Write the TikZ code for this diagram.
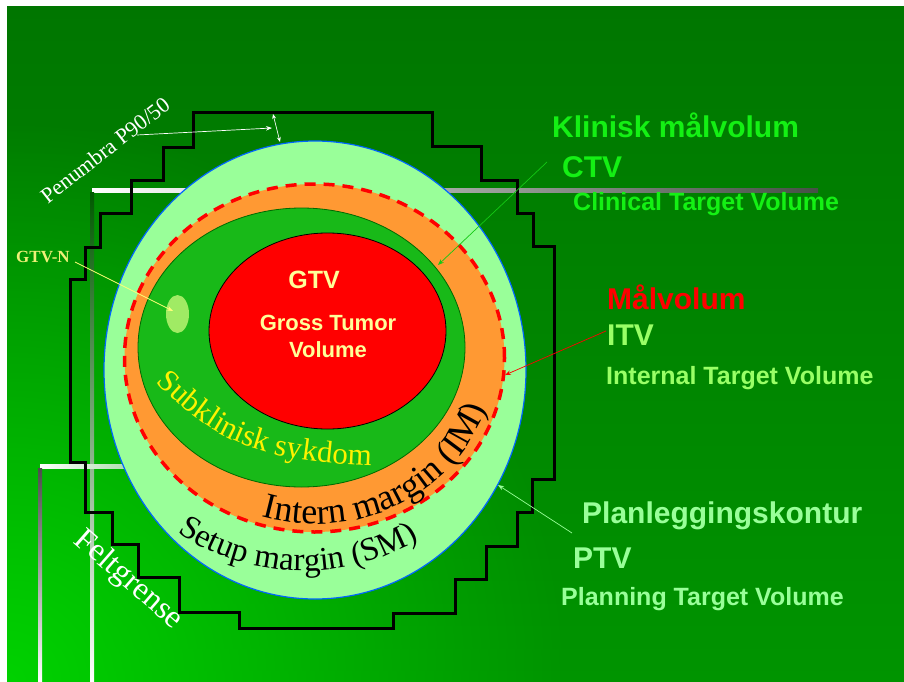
\documentclass[tikz,border=0pt]{standalone}
\usepackage{fontspec}
\setmainfont{Liberation Serif}
\newfontfamily\arialf{Liberation Sans}
\newfontfamily\timesf{Liberation Serif}
\usetikzlibrary{decorations.text, arrows.meta, fadings}

\definecolor{bgdark}{RGB}{0,118,0}
\definecolor{bgmid}{RGB}{0,148,0}
\definecolor{bgbright}{RGB}{0,210,0}
\definecolor{ptvfill}{RGB}{153,255,153}
\definecolor{ptvline}{RGB}{0,102,255}
\definecolor{imfill}{RGB}{255,153,51}
\definecolor{ctvfill}{RGB}{24,185,24}
\definecolor{ctvline}{RGB}{0,105,0}
\definecolor{gtvnfill}{RGB}{160,235,100}
\definecolor{paleyellow}{RGB}{255,255,153}
\definecolor{brightgreen}{RGB}{20,240,20}
\definecolor{itvgreen}{RGB}{153,255,102}
\definecolor{ctvarrow}{RGB}{20,200,20}
\definecolor{gtvnarrow}{RGB}{255,255,120}
\definecolor{gtvnlabel}{RGB}{240,240,120}
\definecolor{panelgray}{RGB}{70,80,70}

\tikzfading[name=cornerfade, inner color=transparent!0, outer color=transparent!100]

\tikzset{
  bigsans/.style={font=\arialf\bfseries\fontsize{30}{34}\selectfont, anchor=base west, inner sep=0pt},
  smallsans/.style={font=\arialf\bfseries\fontsize{25}{29}\selectfont, anchor=base west, inner sep=0pt},
  ptr/.style={-{Stealth[length=6pt,width=4.5pt]}, line width=0.7pt},
  dptr/.style={{Stealth[length=5pt,width=4pt]}-{Stealth[length=5pt,width=4pt]}, line width=0.7pt},
  fieldline/.style={line width=3pt, line join=miter, draw=black},
}

\begin{document}
\begin{tikzpicture}[x=1pt,y=1pt]
\useasboundingbox (0,0) rectangle (904,-682);
\fill[white] (0,0) rectangle (904,-682);
\shade[top color=bgdark, bottom color=bgmid] (7,-7) rectangle (904,-682);
\begin{scope}
  \clip (7,-7) rectangle (904,-682);
  \fill[bgbright, path fading=cornerfade] (7,-682) circle (560);
\end{scope}

% panel edges
\shade[left color=white, right color=panelgray] (92,-188) rectangle (818,-192);
\shade[top color=green!35!black, bottom color=white] (90,-192) rectangle (94,-682);
\shade[left color=white, right color=bgmid] (40,-464) rectangle (320,-468);
\shade[top color=gray!60!black, bottom color=white] (38,-468) rectangle (42,-682);

% field boundary (staircase)
\draw[fieldline] (193,-113) -- (432,-113) -- (432,-146) -- (481,-146) -- (481,-180) -- (517,-180)
  -- (517,-213) -- (533,-213) -- (533,-246) -- (554,-246) -- (554,-479) -- (532,-479)
  -- (532,-512) -- (517,-512) -- (517,-546) -- (486,-546) -- (486,-579) -- (455,-579)
  -- (455,-613) -- (393,-613) -- (393,-628) -- (239,-628) -- (239,-612) -- (179,-612)
  -- (179,-577) -- (138,-577) -- (138,-544) -- (112,-544) -- (112,-512) -- (85,-512)
  -- (85,-462) -- (70,-462) -- (70,-279) -- (85,-279) -- (85,-247) -- (100,-247)
  -- (100,-213) -- (131,-213) -- (131,-180) -- (163,-180) -- (163,-147) -- (193,-147) -- cycle;

% volumes
\filldraw[fill=ptvfill, draw=ptvline, line width=1.2pt] (315,-370) ellipse [x radius=211, y radius=229];
\fill[imfill] (314.5,-358) ellipse [x radius=190, y radius=174];
\draw[red, line width=3.5pt, dash pattern=on 11pt off 8pt] (314.5,-358) ellipse [x radius=190, y radius=174];
\filldraw[fill=ctvfill, draw=ctvline, line width=0.8pt] (301.5,-347.5) ellipse [x radius=163.5, y radius=139.5];
\filldraw[fill=red, draw=black, line width=0.8pt] (327.5,-331) ellipse [x radius=118.5, y radius=98];
\fill[gtvnfill] (177.5,-314) ellipse [x radius=11.5, y radius=19];

% GTV text
\node[font=\arialf\bfseries\fontsize{25}{29}\selectfont, text=paleyellow, anchor=base, inner sep=0pt] (gtv) at (314,-288) {GTV};
\node[font=\arialf\bfseries\fontsize{22}{27}\selectfont, text=paleyellow, anchor=base, inner sep=0pt] (gross) at (328,-330) {Gross Tumor};
\node[font=\arialf\bfseries\fontsize{22}{27}\selectfont, text=paleyellow, anchor=base, inner sep=0pt] (volume) at (328,-357) {Volume};

% curved labels
\path[decorate, decoration={text along path, text align=left,
  text={|\timesf\fontsize{31}{35}\selectfont\color{yellow}|Subklinisk sykdom}}]
  (156,-382) .. controls (212,-438) and (252,-465) .. (400,-466);
\path[decorate, decoration={text along path, text align=left,
  text={|\timesf\fontsize{36}{40}\selectfont\color{black}|Intern margin (IM)}}]
  (314.5,-358) ++(253:180 and 166) arc[start angle=253, end angle=375, x radius=180, y radius=166];
\path[decorate, decoration={text along path, text align=left,
  text={|\timesf\fontsize{33}{37}\selectfont\color{black}|Setup margin (SM)}}]
  (303,-346) ++(236:225) arc[start angle=236, end angle=320, radius=225];

% rotated labels
\node[font=\timesf\fontsize{22}{26}\selectfont, text=white, rotate=38, inner sep=0pt] (penumbra) at (105,-150) {Penumbra P90/50};
\node[font=\timesf\fontsize{32}{36}\selectfont, text=white, rotate=-41, inner sep=0pt] (feltgrense) at (128,-580) {Feltgrense};
\node[font=\timesf\bfseries\fontsize{17}{20}\selectfont, text=gtvnlabel, anchor=base west, inner sep=0pt] (gtvn) at (16,-262) {GTV-N};

% right-hand labels
\node[bigsans, text=brightgreen] (klinisk) at (552,-138) {Klinisk målvolum};
\node[bigsans, text=brightgreen] (ctv) at (562,-177) {CTV};
\node[smallsans, text=brightgreen] (clinical) at (573,-210) {Clinical Target Volume};
\node[bigsans, text=red] (malvolum) at (607,-309) {Målvolum};
\node[bigsans, text=itvgreen] (itv) at (607,-345) {ITV};
\node[smallsans, text=itvgreen] (internal) at (606,-384) {Internal Target Volume};
\node[bigsans, text=ptvfill] (planlegg) at (582,-523) {Planleggingskontur};
\node[bigsans, text=ptvfill] (ptv) at (573,-568) {PTV};
\node[smallsans, text=ptvfill] (planning) at (561,-605) {Planning Target Volume};

% arrow end points
\coordinate (ctvfrom) at (547,-162);
\coordinate (ctvto) at (438,-265);
\coordinate (itvfrom) at (606,-331);
\coordinate (itvto) at (505,-375);
\coordinate (ptvfrom) at (572,-533);
\coordinate (ptvto) at (498,-485);
\coordinate (gtvnfrom) at (75,-262);
\coordinate (gtvnto) at (173,-311);
\coordinate (penfrom) at (137,-135);
\coordinate (pento) at (272,-128);
\coordinate (pentop) at (273,-114);
\coordinate (penbot) at (280,-142);

\draw[ptr, ctvarrow] (ctvfrom) -- (ctvto);
\draw[ptr, red] (itvfrom) -- (itvto);
\draw[ptr, ptvfill] (ptvfrom) -- (ptvto);
\draw[ptr, gtvnarrow] (gtvnfrom) -- (gtvnto);
\draw[ptr, white] (penfrom) -- (pento);
\draw[dptr, white] (pentop) -- (penbot);
\end{tikzpicture}
\end{document}
